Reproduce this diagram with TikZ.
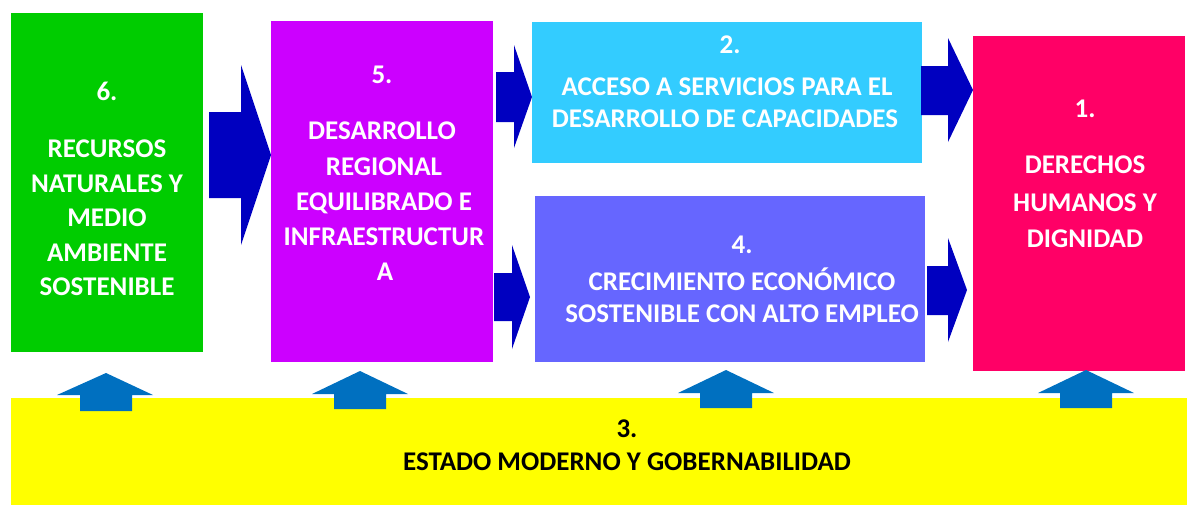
\documentclass[tikz,border=0pt]{standalone}
\usepackage{fontspec}
\setmainfont{Carlito}
\definecolor{cgreen}{HTML}{00CC00}
\definecolor{cpurple}{HTML}{CC00FF}
\definecolor{ccyan}{HTML}{33CCFF}
\definecolor{cviolet}{HTML}{6666FF}
\definecolor{cpink}{HTML}{FF0066}
\definecolor{cyellow}{HTML}{FFFF00}
\definecolor{darrow}{HTML}{0000C0}
\definecolor{uparrow}{HTML}{0070C0}
\begin{document}
\begin{tikzpicture}[x=1pt,y=-1pt,
  box/.style={draw=none, inner sep=0, outer sep=0, anchor=north west},
  txt/.style={text=white, font=\fontsize{27}{32}\selectfont\bfseries, anchor=base, inner sep=0},
  btxt/.style={txt, text=black},
  rarrow/.style={fill=darrow},
  uarr/.style={fill=uparrow}]
\useasboundingbox (0,0) rectangle (1188,507);
% boxes
\node[box, fill=cgreen, minimum width=192, minimum height=339] (six) at (11,13) {};
\node[box, fill=cpurple, minimum width=222, minimum height=341] (five) at (271,21) {};
\node[box, fill=ccyan, minimum width=390, minimum height=141] (two) at (532,22) {};
\node[box, fill=cviolet, minimum width=390, minimum height=166] (four) at (535,196) {};
\node[box, fill=cpink, minimum width=212, minimum height=335] (one) at (973,36) {};
\node[box, fill=cyellow, minimum width=1176, minimum height=107] (three) at (11,398) {};
% texts box 6
\node[txt] (t6a) at (107,100) {6.};
\node[txt] (t6b) at (107,157) {RECURSOS};
\node[txt] (t6c) at (107,192) {NATURALES Y};
\node[txt] (t6d) at (107,226) {MEDIO};
\node[txt] (t6e) at (107,261) {AMBIENTE};
\node[txt] (t6f) at (107,295) {SOSTENIBLE};
% texts box 5
\node[txt] (t5a) at (382,83) {5.};
\node[txt] (t5b) at (382,139) {DESARROLLO};
\node[txt] (t5c) at (384,175) {REGIONAL};
\node[txt] (t5d) at (384,210) {EQUILIBRADO E};
\node[txt] (t5e) at (384,245) {INFRAESTRUCTUR};
\node[txt] (t5f) at (385,280) {A};
% texts box 2
\node[txt] (t2a) at (730,53) {2.};
\node[txt] (t2b) at (727,95) {ACCESO A SERVICIOS PARA EL};
\node[txt] (t2c) at (725,127) {DESARROLLO DE CAPACIDADES};
% texts box 4
\node[txt] (t4a) at (742,253) {4.};
\node[txt] (t4b) at (742,290) {CRECIMIENTO ECONÓMICO};
\node[txt] (t4c) at (742,322) {SOSTENIBLE CON ALTO EMPLEO};
% texts box 1
\node[txt] (t1a) at (1085,117) {1.};
\node[txt] (t1b) at (1085,173) {DERECHOS};
\node[txt] (t1c) at (1085,211) {HUMANOS Y};
\node[txt] (t1d) at (1085,247) {DIGNIDAD};
% texts box 3
\node[btxt] (t3a) at (627,437) {3.};
\node[btxt] (t3b) at (627,470) {ESTADO MODERNO Y GOBERNABILIDAD};
% right block arrows
\fill[rarrow] (209,112) -- (241,112) -- (241,65) -- (271,155) -- (241,245) -- (241,198) -- (209,198) -- cycle;
\fill[rarrow] (496,72) -- (514,72) -- (514,45) -- (532,97) -- (514,148) -- (514,122) -- (496,122) -- cycle;
\fill[rarrow] (494,273) -- (512,273) -- (512,245) -- (530,297) -- (512,349) -- (512,321) -- (494,321) -- cycle;
\fill[rarrow] (921,66) -- (948,66) -- (948,38) -- (973,90) -- (948,142) -- (948,115) -- (921,115) -- cycle;
\fill[rarrow] (927,266) -- (948,266) -- (948,238) -- (967,290) -- (948,342) -- (948,315) -- (927,315) -- cycle;
% up arrows
\fill[uarr] (80,411) -- (80,395) -- (57,395) -- (106,373) -- (153,395) -- (132,395) -- (132,411) -- cycle;
\fill[uarr] (334,409) -- (334,394) -- (312,394) -- (360,371) -- (408,394) -- (386,394) -- (386,409) -- cycle;
\fill[uarr] (700,408) -- (700,393) -- (678,393) -- (726,370) -- (774,393) -- (752,393) -- (752,408) -- cycle;
\fill[uarr] (1060,408) -- (1060,393) -- (1038,393) -- (1086,370) -- (1134,393) -- (1112,393) -- (1112,408) -- cycle;
\end{tikzpicture}
\end{document}
